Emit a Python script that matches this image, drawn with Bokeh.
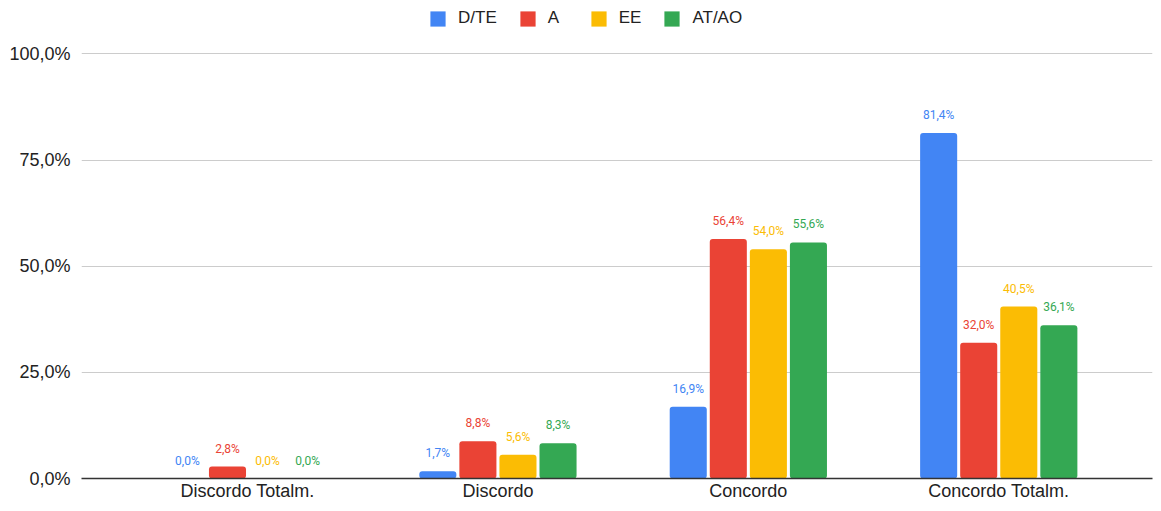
from bokeh.plotting import figure
from bokeh.models import (ColumnDataSource, Range1d, FixedTicker, Legend, LegendItem, LabelSet)
from bokeh.core.properties import value
from bokeh.embed import file_html
from bokeh.resources import INLINE

categories = ["Discordo Totalm.", "Discordo", "Concordo", "Concordo Totalm."]
series = ["D/TE", "A", "EE", "AT/AO"]
d_te = [0.0, 1.7, 16.9, 81.4]
a = [2.8, 8.8, 56.4, 32.0]
ee = [0.0, 5.6, 54.0, 40.5]
at_ao = [0.0, 8.3, 55.6, 36.1]
y_ticks = [0, 25, 50, 75, 100]
y_tick_labels = ["0,0%", "25,0%", "50,0%", "75,0%", "100,0%"]

colors = ["#4285F4", "#EA4335", "#FBBC04", "#34A853"]
values = [d_te, a, ee, at_ao]
offsets = [-0.24, -0.08, 0.08, 0.24]
bar_w = 0.148

p = figure(width=1153, height=503, output_backend="svg", toolbar_location=None,
           x_range=Range1d(-0.663, 3.614), y_range=Range1d(0, 112.6),
           min_border_left=81, min_border_right=1, min_border_top=0, min_border_bottom=23)
p.outline_line_color = None
p.background_fill_color = "white"
p.border_fill_color = "white"

items = []
for name, vals, col, off in zip(series, values, colors, offsets):
    src = ColumnDataSource(dict(
        x=[i + off for i in range(len(categories))],
        top=vals,
        label=[f"{v:.1f}".replace(".", ",") + "%" for v in vals],
    ))
    r = p.vbar(x="x", top="top", width=bar_w, bottom=0, source=src, color=col,
               line_color=None, border_radius=3)
    lbl = LabelSet(x="x", y="top", text="label", source=src, text_align="center",
                   text_baseline="bottom", y_offset=11, text_font=value("Roboto"),
                   text_font_size="12px", text_color=col)
    p.add_layout(lbl)
    items.append(LegendItem(label=name, renderers=[r]))

legend = Legend(items=items, orientation="horizontal", location=(347, 450),
                label_text_font="Liberation Sans", label_text_font_size="17px",
                label_text_color="#222222", glyph_width=19, glyph_height=19,
                label_standoff=11, spacing=21, padding=0, margin=0,
                border_line_color=None, background_fill_alpha=0)
p.add_layout(legend)

p.xgrid.grid_line_color = None
p.ygrid.grid_line_color = "#cccccc"
p.ygrid.ticker = FixedTicker(ticks=y_ticks)

p.yaxis.ticker = FixedTicker(ticks=y_ticks)
p.yaxis.major_label_overrides = {t: l for t, l in zip(y_ticks, y_tick_labels)}
p.yaxis.axis_line_color = None
p.yaxis.major_tick_line_color = None
p.yaxis.minor_tick_line_color = None
p.yaxis.major_tick_out = 0
p.yaxis.major_tick_in = 0
p.yaxis.major_label_standoff = 11
p.yaxis.major_label_text_font = "Liberation Sans"
p.yaxis.major_label_text_font_size = "18px"
p.yaxis.major_label_text_color = "#222222"

p.xaxis.ticker = FixedTicker(ticks=list(range(len(categories))))
p.xaxis.major_label_overrides = {i: c for i, c in enumerate(categories)}
p.xaxis.axis_line_color = "#333333"
p.xaxis.axis_line_width = 1.5
p.xaxis.major_tick_line_color = None
p.xaxis.minor_tick_line_color = None
p.xaxis.major_tick_out = 0
p.xaxis.major_tick_in = 0
p.xaxis.major_label_standoff = 2
p.xaxis.major_label_text_font = "Liberation Sans"
p.xaxis.major_label_text_font_size = "18px"
p.xaxis.major_label_text_color = "#222222"

open("out.html", "w").write(file_html(p, INLINE))
